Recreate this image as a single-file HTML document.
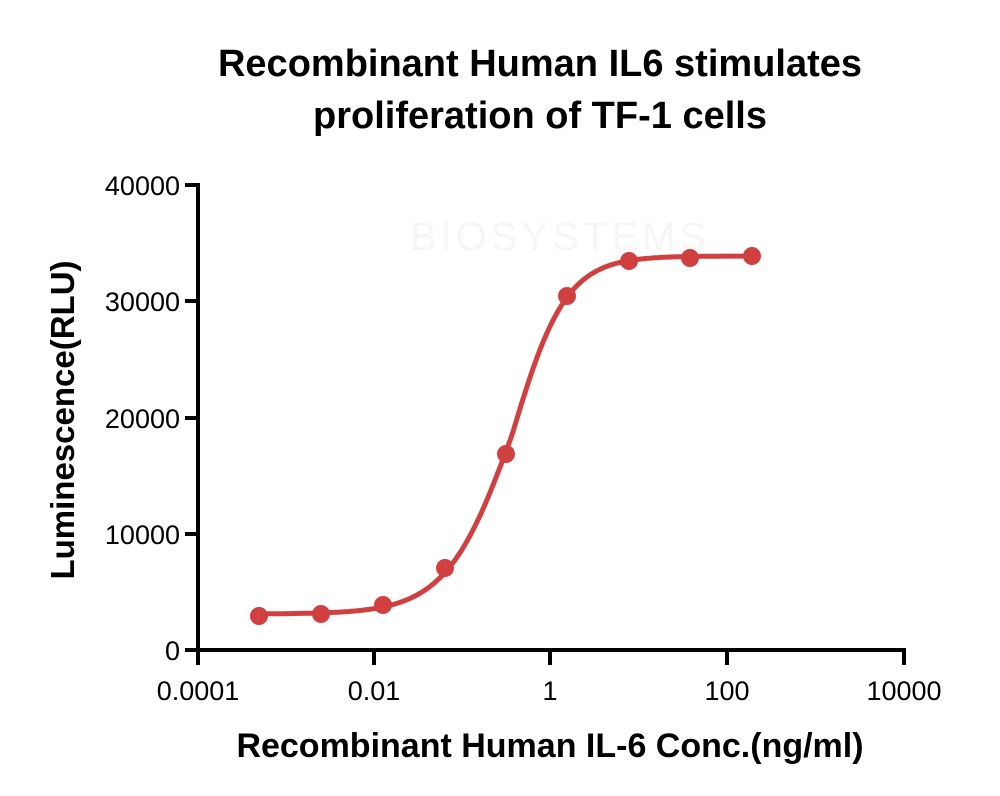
<!DOCTYPE html>
<html><head><style>body{margin:0;background:#fff}svg{display:block}text{font-family:"Liberation Sans",sans-serif}</style></head><body>
<svg width="1000" height="796" xmlns="http://www.w3.org/2000/svg">
<text x="540" y="76" text-anchor="middle" font-size="38" font-weight="bold">Recombinant Human IL6 stimulates</text>
<text x="540" y="128" text-anchor="middle" font-size="38" font-weight="bold">proliferation of TF-1 cells</text>
<text x="560" y="250" text-anchor="middle" font-size="40" fill="#f6f6f6" letter-spacing="4">BIOSYSTEMS</text>
<g stroke="#000" stroke-width="4" fill="none">
<line x1="198" y1="183" x2="198" y2="652"/>
<line x1="196" y1="650" x2="906" y2="650"/>
<line x1="185" y1="185" x2="198" y2="185"/><line x1="185" y1="301" x2="198" y2="301"/><line x1="185" y1="418" x2="198" y2="418"/><line x1="185" y1="534" x2="198" y2="534"/><line x1="185" y1="650" x2="198" y2="650"/>
<line x1="198" y1="650" x2="198" y2="665"/><line x1="374" y1="650" x2="374" y2="665"/><line x1="550" y1="650" x2="550" y2="665"/><line x1="727" y1="650" x2="727" y2="665"/><line x1="904" y1="650" x2="904" y2="665"/>
</g>
<g font-size="27" text-anchor="end">
<text x="180" y="195">40000</text><text x="180" y="311">30000</text><text x="180" y="428">20000</text><text x="180" y="544">10000</text><text x="180" y="660">0</text>
</g>
<g font-size="27" text-anchor="middle">
<text x="198" y="700">0.0001</text><text x="374" y="700">0.01</text><text x="550" y="700">1</text><text x="727" y="700">100</text><text x="904" y="700">10000</text>
</g>
<text x="550" y="757" text-anchor="middle" font-size="34" font-weight="bold">Recombinant Human IL-6 Conc.(ng/ml)</text>
<text transform="translate(74,420) rotate(-90)" text-anchor="middle" font-size="33" font-weight="bold">Luminescence(RLU)</text>
<path id="c" fill="none" stroke="#d04040" stroke-width="5"/>
<g fill="#d04040">
<circle cx="259" cy="616" r="9"/><circle cx="321" cy="614" r="9"/><circle cx="383" cy="605" r="9"/><circle cx="445" cy="568" r="9"/><circle cx="506" cy="454" r="9"/><circle cx="567" cy="296" r="9"/><circle cx="629" cy="261" r="9"/><circle cx="690" cy="258" r="9"/><circle cx="752" cy="256" r="9"/>
</g>
<script>
var d="";for(var x=259;x<=752;x+=2){var s=x<512?33:27;var y=614-358/(1+Math.exp(-(x-512)/s));d+=(d?"L":"M")+x+","+y.toFixed(1);}
document.getElementById("c").setAttribute("d",d);
</script>
</svg>
</body></html>
